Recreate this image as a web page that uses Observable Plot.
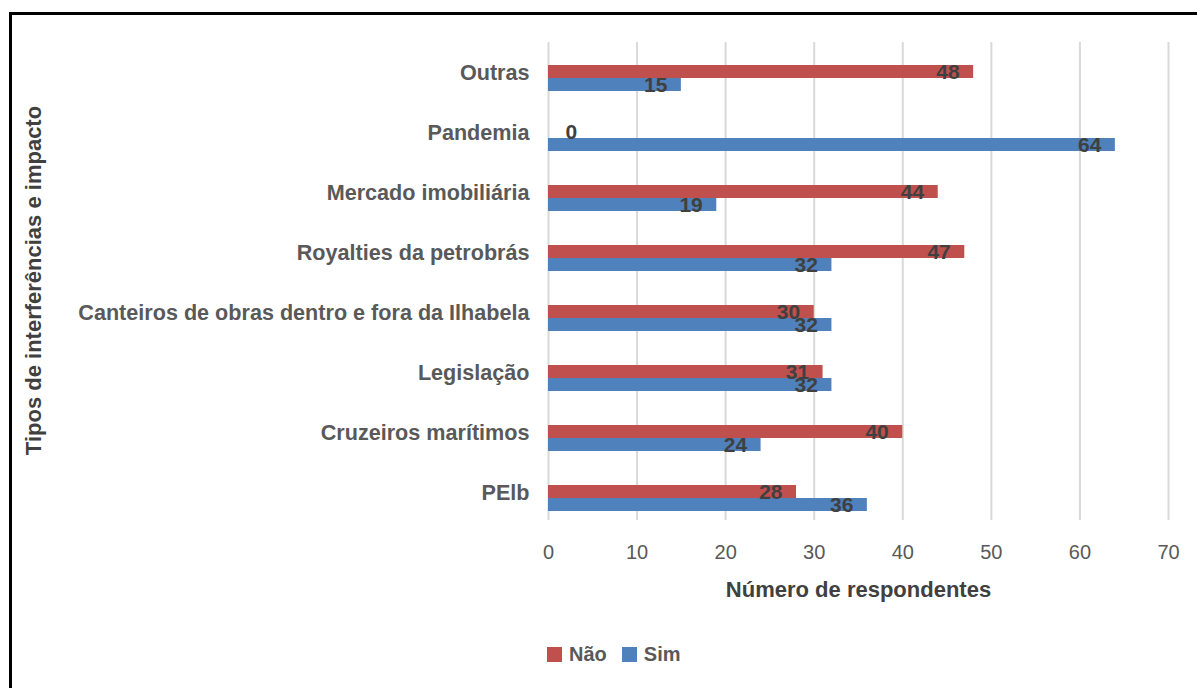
<!DOCTYPE html>
<html>
<head>
<meta charset="utf-8">
<script src="https://cdn.jsdelivr.net/npm/d3@7"></script>
<script src="https://cdn.jsdelivr.net/npm/@observablehq/plot@0.6"></script>
<style>
  html, body { margin: 0; padding: 0; background: #fff; }
  body { width: 1197px; height: 688px; position: relative; overflow: hidden; font-family: "Liberation Sans", Arial, sans-serif; }
  #frame { position: absolute; left: 9px; top: 12px; width: 1210px; height: 700px; border: 3px solid #000; box-sizing: border-box; }
  #chart { position: absolute; left: 0; top: 0; }
  #legend { position: absolute; left: 547px; top: 643px; display: flex; align-items: center; font-size: 20px; font-weight: bold; color: #595959; }
  .item { display: flex; align-items: center; margin-right: 15px; }
  .sw { width: 15px; height: 15px; margin-right: 7px; }
</style>
</head>
<body>
<div id="frame"></div>
<div id="chart"></div>
<div id="legend"></div>
<script>
const categories = [
  "Outras",
  "Pandemia",
  "Mercado imobiliária",
  "Royalties da petrobrás",
  "Canteiros de obras dentro e fora da Ilhabela",
  "Legislação",
  "Cruzeiros marítimos",
  "PElb"
];
const naoValues = [48, 0, 44, 47, 30, 31, 40, 28];
const simValues = [15, 64, 19, 32, 32, 32, 24, 36];
const seriesNames = ["Não", "Sim"];
const seriesColors = ["#C0504D", "#4F81BD"];
const xTicks = [0, 10, 20, 30, 40, 50, 60, 70];
const xTitle = "Número de respondentes";
const yTitle = "Tipos de interferências e impacto";

const nao = categories.map((c, i) => ({category: c, value: naoValues[i]}));
const sim = categories.map((c, i) => ({category: c, value: simValues[i]}));

const labelStyle = {fontSize: 21, fontWeight: "bold", fill: "#404040", textAnchor: "end", dx: -14};

const chart = Plot.plot({
  width: 1197,
  height: 620,
  marginLeft: 548,
  marginRight: 29,
  marginTop: 48,
  marginBottom: 92,
  style: {fontFamily: "'Liberation Sans', Arial, sans-serif", background: "transparent", overflow: "visible"},
  x: {domain: [0, 70]},
  y: {domain: categories, paddingInner: 0.5667, paddingOuter: 0.2833},
  marks: [
    Plot.ruleX(xTicks, {x: d => d, stroke: "#d9d9d9", strokeWidth: 2, insetTop: -6, insetBottom: 8}),
    Plot.barX(nao, {x: "value", y: "category", fill: seriesColors[0], insetBottom: 13}),
    Plot.barX(sim, {x: "value", y: "category", fill: seriesColors[1], insetTop: 13}),
    Plot.text(nao.filter(d => d.value > 0), {x: "value", y: "category", text: d => String(d.value), dy: -6.5, ...labelStyle}),
    Plot.text(nao.filter(d => d.value === 0), {x: "value", y: "category", text: d => String(d.value), dy: -6.5, fontSize: 21, fontWeight: "bold", fill: "#404040", textAnchor: "start", dx: 17}),
    Plot.text(sim, {x: "value", y: "category", text: d => String(d.value), dy: 6.5, ...labelStyle}),
    Plot.axisY({tickSize: 0, tickPadding: 19, fontSize: 21.6, fontWeight: "bold", fill: "#595959", label: null, dy: -5}),
    Plot.axisX({ticks: xTicks, tickSize: 0, tickPadding: 16, fontSize: 20, fill: "#595959", label: null}),
    Plot.text([xTitle], {frameAnchor: "bottom", dy: 68, text: d => d, fontSize: 22, fontWeight: "bold", fill: "#404040"}),
    Plot.text([yTitle], {frameAnchor: "left", textAnchor: "middle", dx: -515, dy: -8, rotate: -90, text: d => d, fontSize: 22, fontWeight: "bold", fill: "#404040"})
  ]
});
document.getElementById("chart").appendChild(chart);

const legend = document.getElementById("legend");
seriesNames.forEach((name, i) => {
  const item = document.createElement("div");
  item.className = "item";
  const sw = document.createElement("div");
  sw.className = "sw";
  sw.style.background = seriesColors[i];
  const label = document.createElement("span");
  label.textContent = name;
  item.appendChild(sw);
  item.appendChild(label);
  legend.appendChild(item);
});
</script>
</body>
</html>
